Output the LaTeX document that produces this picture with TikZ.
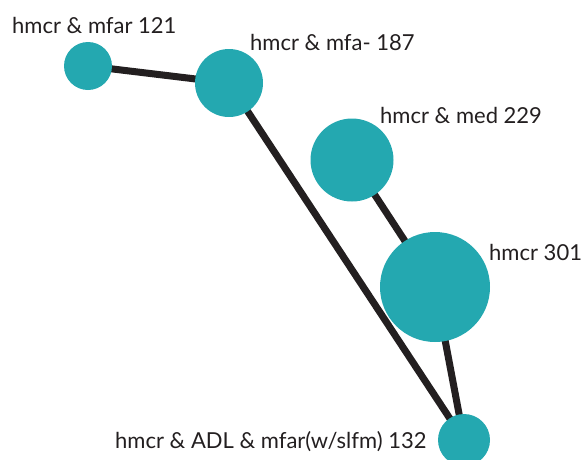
\documentclass[tikz,border=0pt]{standalone}
\usepackage{fontspec}
\setmainfont{Lato}
\usepackage{xcolor}
\usepackage{tikz}
\usetikzlibrary{backgrounds, positioning}

\definecolor{nodeteal}{HTML}{24A8B0}
\definecolor{edgedark}{HTML}{231F20}

\begin{document}
\begin{tikzpicture}[
            x=1pt, y=-1pt,
            dot/.style={circle, fill=nodeteal, inner sep=0pt},
            edge/.style={-, line width=7pt, draw=edgedark},
            tag/.style={anchor=west, inner sep=0pt, font=\fontsize{22}{24}\selectfont, text=edgedark}
        ]
        \useasboundingbox (0,0) rectangle (583,459);

        % Nodes (manual layout to match figure)
        \node[dot, minimum size=48pt] (mfar) at (88, 66) {};
        \node[dot, minimum size=68pt] (mfa) at (229, 83) {};
        \node[dot, minimum size=83pt] (med) at (352, 160) {};
        \node[dot, minimum size=110pt] (hmcr) at (435, 287) {};
        \node[dot, minimum size=52pt] (adl) at (464, 440) {};

        % Labels
        \node[tag] (mfarlabel) at (12, 25) {hmcr \& mfar 121};
        \node[tag] (mfalabel) at (250, 42) {hmcr \& mfa- 187};
        \node[tag] (medlabel) at (380, 115) {hmcr \& med 229};
        \node[tag] (hmcrlabel) at (489, 252) {hmcr 301};
        \node[tag] (adllabel) at (115, 442) {hmcr \& ADL \& mfar(w/slfm) 132};

        % Edges
        \begin{scope}[on background layer]
            \draw[edge] (mfar.center) -- (mfa.center);
            \draw[edge] (mfa.center) -- (adl.center);
            \draw[edge] (med.center) -- (hmcr.center);
            \draw[edge] (hmcr.center) -- (adl.center);
        \end{scope}

    \end{tikzpicture}
\end{document}
